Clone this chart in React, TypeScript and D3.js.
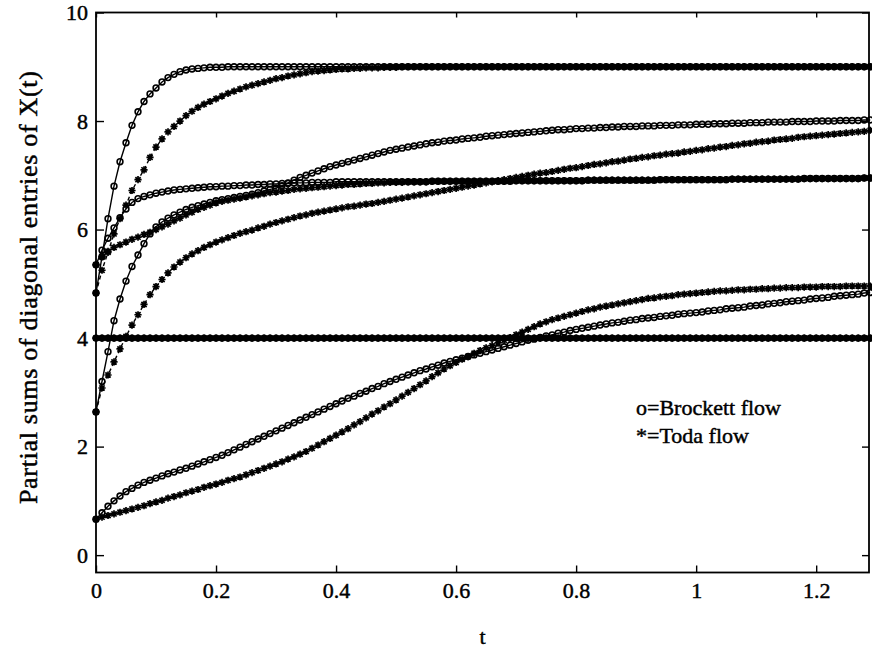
import React, { useEffect, useRef } from "react";
import * as d3 from "d3";

// flows sampled every 0.01 in t, starting at t = 0
const tStep = 0.01;
const xTicks = [0, 0.2, 0.4, 0.6, 0.8, 1, 1.2];
const yTicks = [0, 2, 4, 6, 8, 10];

// partial sums s1..s5 of diag(X(t)), Brockett flow
const brockett1 = [
  0.66, 0.78, 0.9, 1.0, 1.09, 1.17, 1.23, 1.29, 1.34, 1.38,
  1.42, 1.46, 1.5, 1.53, 1.57, 1.6, 1.64, 1.68, 1.72, 1.76,
  1.8, 1.84, 1.89, 1.94, 1.99, 2.04, 2.09, 2.14, 2.19, 2.24,
  2.29, 2.34, 2.39, 2.44, 2.49, 2.54, 2.59, 2.64, 2.69, 2.74,
  2.79, 2.84, 2.89, 2.93, 2.98, 3.02, 3.07, 3.11, 3.16, 3.2,
  3.24, 3.28, 3.32, 3.36, 3.4, 3.43, 3.47, 3.5, 3.54, 3.57,
  3.6, 3.63, 3.66, 3.69, 3.72, 3.75, 3.78, 3.81, 3.84, 3.87,
  3.9, 3.93, 3.96, 3.98, 4.01, 4.04, 4.06, 4.09, 4.11, 4.14,
  4.16, 4.18, 4.2, 4.22, 4.24, 4.26, 4.28, 4.29, 4.31, 4.33,
  4.34, 4.36, 4.37, 4.38, 4.4, 4.41, 4.42, 4.44, 4.45, 4.46,
  4.47, 4.48, 4.5, 4.51, 4.52, 4.54, 4.55, 4.56, 4.57, 4.59,
  4.6, 4.61, 4.63, 4.64, 4.65, 4.67, 4.68, 4.69, 4.7, 4.72,
  4.73, 4.74, 4.75, 4.77, 4.78, 4.79, 4.8, 4.81, 4.83, 4.84,
];
const brockett2 = [
  2.64, 3.2, 3.75, 4.32, 4.72, 5.05, 5.32, 5.53, 5.74, 5.92,
  6.05, 6.14, 6.21, 6.27, 6.32, 6.37, 6.41, 6.44, 6.47, 6.5,
  6.53, 6.55, 6.57, 6.59, 6.61, 6.63, 6.65, 6.68, 6.71, 6.74,
  6.76, 6.81, 6.86, 6.91, 6.96, 7.0, 7.04, 7.08, 7.12, 7.16,
  7.19, 7.22, 7.25, 7.28, 7.31, 7.34, 7.37, 7.4, 7.43, 7.46,
  7.48, 7.5, 7.52, 7.54, 7.56, 7.58, 7.6, 7.61, 7.63, 7.64,
  7.65, 7.67, 7.68, 7.69, 7.7, 7.72, 7.73, 7.74, 7.75, 7.76,
  7.77, 7.78, 7.79, 7.8, 7.81, 7.82, 7.83, 7.84, 7.84, 7.85,
  7.86, 7.86, 7.87, 7.87, 7.88, 7.88, 7.89, 7.89, 7.9, 7.9,
  7.9, 7.91, 7.91, 7.91, 7.92, 7.92, 7.92, 7.93, 7.93, 7.93,
  7.94, 7.94, 7.94, 7.95, 7.95, 7.95, 7.96, 7.96, 7.96, 7.97,
  7.97, 7.97, 7.98, 7.98, 7.98, 7.98, 7.99, 7.99, 7.99, 7.99,
  8.0, 8.0, 8.0, 8.0, 8.01, 8.01, 8.01, 8.01, 8.02, 8.02,
];
const brockett3 = [
  4.83, 5.5, 6.2, 6.8, 7.25, 7.6, 7.92, 8.17, 8.36, 8.5,
  8.61, 8.72, 8.8, 8.86, 8.91, 8.94, 8.96, 8.97, 8.98, 8.99,
  8.99, 8.99, 9, 9, 9, 9, 9, 9, 9, 9,
  9, 9, 9, 9, 9, 9, 9, 9, 9, 9,
  9, 9, 9, 9, 9, 9, 9, 9, 9, 9,
  9, 9, 9, 9, 9, 9, 9, 9, 9, 9,
  9, 9, 9, 9, 9, 9, 9, 9, 9, 9,
  9, 9, 9, 9, 9, 9, 9, 9, 9, 9,
  9, 9, 9, 9, 9, 9, 9, 9, 9, 9,
  9, 9, 9, 9, 9, 9, 9, 9, 9, 9,
  9, 9, 9, 9, 9, 9, 9, 9, 9, 9,
  9, 9, 9, 9, 9, 9, 9, 9, 9, 9,
  9, 9, 9, 9, 9, 9, 9, 9, 9, 9,
];
const brockett4 = [
  5.35, 5.62, 5.84, 6.03, 6.22, 6.38, 6.5, 6.57, 6.61, 6.64,
  6.67, 6.69, 6.71, 6.73, 6.74, 6.75, 6.76, 6.77, 6.78, 6.79,
  6.79, 6.8, 6.8, 6.81, 6.81, 6.82, 6.82, 6.83, 6.83, 6.84,
  6.84, 6.85, 6.85, 6.86, 6.86, 6.86, 6.87, 6.87, 6.87, 6.87,
  6.88, 6.88, 6.88, 6.88, 6.88, 6.88, 6.88, 6.88, 6.88, 6.88,
  6.88, 6.88, 6.88, 6.88, 6.88, 6.88, 6.89, 6.89, 6.89, 6.89,
  6.89, 6.89, 6.89, 6.89, 6.89, 6.89, 6.89, 6.89, 6.89, 6.89,
  6.9, 6.9, 6.9, 6.9, 6.9, 6.9, 6.9, 6.9, 6.9, 6.9,
  6.9, 6.9, 6.91, 6.91, 6.91, 6.91, 6.91, 6.91, 6.91, 6.91,
  6.91, 6.91, 6.91, 6.91, 6.92, 6.92, 6.92, 6.92, 6.92, 6.92,
  6.92, 6.92, 6.92, 6.92, 6.92, 6.92, 6.93, 6.93, 6.93, 6.93,
  6.93, 6.93, 6.93, 6.93, 6.93, 6.93, 6.93, 6.93, 6.94, 6.94,
  6.94, 6.94, 6.94, 6.94, 6.94, 6.94, 6.94, 6.94, 6.95, 6.95,
];
const brockett5 = [
  4, 4, 4, 4, 4, 4, 4, 4, 4, 4, 4, 4, 4, 4, 4, 4, 4, 4, 4, 4,
  4, 4, 4, 4, 4, 4, 4, 4, 4, 4, 4, 4, 4, 4, 4, 4, 4, 4, 4, 4,
  4, 4, 4, 4, 4, 4, 4, 4, 4, 4, 4, 4, 4, 4, 4, 4, 4, 4, 4, 4,
  4, 4, 4, 4, 4, 4, 4, 4, 4, 4, 4, 4, 4, 4, 4, 4, 4, 4, 4, 4,
  4, 4, 4, 4, 4, 4, 4, 4, 4, 4, 4, 4, 4, 4, 4, 4, 4, 4, 4, 4,
  4, 4, 4, 4, 4, 4, 4, 4, 4, 4, 4, 4, 4, 4, 4, 4, 4, 4, 4, 4,
  4, 4, 4, 4, 4, 4, 4, 4, 4, 4,
];

// same partial sums, Toda flow
const toda1 = [
  0.66, 0.7, 0.73, 0.76, 0.79, 0.82, 0.85, 0.88, 0.91, 0.95,
  0.98, 1.01, 1.05, 1.08, 1.11, 1.15, 1.18, 1.21, 1.25, 1.28,
  1.31, 1.34, 1.38, 1.41, 1.44, 1.48, 1.52, 1.56, 1.6, 1.64,
  1.68, 1.72, 1.77, 1.81, 1.86, 1.91, 1.97, 2.03, 2.09, 2.15,
  2.21, 2.27, 2.33, 2.4, 2.46, 2.53, 2.6, 2.66, 2.73, 2.79,
  2.86, 2.93, 3.0, 3.07, 3.14, 3.21, 3.29, 3.36, 3.43, 3.49,
  3.55, 3.61, 3.66, 3.72, 3.77, 3.82, 3.86, 3.91, 3.96, 4.01,
  4.06, 4.11, 4.16, 4.21, 4.26, 4.3, 4.34, 4.37, 4.4, 4.43,
  4.46, 4.49, 4.52, 4.54, 4.57, 4.59, 4.61, 4.63, 4.65, 4.67,
  4.69, 4.71, 4.73, 4.74, 4.76, 4.77, 4.78, 4.8, 4.81, 4.82,
  4.83, 4.84, 4.85, 4.86, 4.87, 4.87, 4.88, 4.89, 4.89, 4.9,
  4.9, 4.91, 4.91, 4.92, 4.92, 4.93, 4.93, 4.93, 4.94, 4.94,
  4.94, 4.95, 4.95, 4.95, 4.95, 4.96, 4.96, 4.96, 4.96, 4.96,
];
const toda2 = [
  2.64, 3.08, 3.32, 3.56, 3.8, 4.03, 4.24, 4.43, 4.62, 4.8,
  4.95, 5.08, 5.2, 5.31, 5.4, 5.48, 5.55, 5.61, 5.67, 5.72,
  5.77, 5.81, 5.85, 5.89, 5.93, 5.96, 5.99, 6.03, 6.06, 6.1,
  6.13, 6.16, 6.19, 6.22, 6.25, 6.27, 6.3, 6.32, 6.34, 6.36,
  6.38, 6.4, 6.42, 6.43, 6.45, 6.47, 6.48, 6.5, 6.52, 6.54,
  6.56, 6.58, 6.6, 6.62, 6.64, 6.66, 6.68, 6.7, 6.72, 6.74,
  6.76, 6.78, 6.8, 6.82, 6.84, 6.86, 6.88, 6.9, 6.92, 6.94,
  6.96, 6.98, 7.0, 7.02, 7.04, 7.05, 7.07, 7.09, 7.11, 7.13,
  7.14, 7.16, 7.18, 7.2, 7.21, 7.23, 7.25, 7.26, 7.28, 7.3,
  7.31, 7.33, 7.34, 7.36, 7.37, 7.39, 7.4, 7.41, 7.43, 7.44,
  7.46, 7.47, 7.49, 7.5, 7.52, 7.53, 7.55, 7.56, 7.58, 7.59,
  7.61, 7.62, 7.63, 7.65, 7.66, 7.67, 7.68, 7.7, 7.71, 7.72,
  7.73, 7.74, 7.75, 7.76, 7.77, 7.78, 7.79, 7.8, 7.81, 7.83,
];
const toda3 = [
  4.83, 5.25, 5.58, 5.92, 6.2, 6.45, 6.72, 6.92, 7.1, 7.33,
  7.52, 7.67, 7.8, 7.9, 8.0, 8.1, 8.18, 8.25, 8.31, 8.36,
  8.41, 8.46, 8.51, 8.55, 8.59, 8.63, 8.66, 8.69, 8.72, 8.75,
  8.78, 8.8, 8.83, 8.85, 8.87, 8.89, 8.91, 8.92, 8.93, 8.94,
  8.95, 8.96, 8.96, 8.97, 8.97, 8.98, 8.98, 8.98, 8.99, 8.99,
  8.99, 9, 9, 9, 9, 9, 9, 9, 9, 9,
  9, 9, 9, 9, 9, 9, 9, 9, 9, 9,
  9, 9, 9, 9, 9, 9, 9, 9, 9, 9,
  9, 9, 9, 9, 9, 9, 9, 9, 9, 9,
  9, 9, 9, 9, 9, 9, 9, 9, 9, 9,
  9, 9, 9, 9, 9, 9, 9, 9, 9, 9,
  9, 9, 9, 9, 9, 9, 9, 9, 9, 9,
  9, 9, 9, 9, 9, 9, 9, 9, 9, 9,
];
const toda4 = [
  5.35, 5.5, 5.6, 5.67, 5.72, 5.77, 5.82, 5.86, 5.91, 5.95,
  6.0, 6.05, 6.1, 6.16, 6.21, 6.27, 6.32, 6.37, 6.41, 6.45,
  6.49, 6.52, 6.54, 6.56, 6.58, 6.6, 6.62, 6.64, 6.66, 6.68,
  6.69, 6.71, 6.72, 6.74, 6.75, 6.76, 6.77, 6.78, 6.79, 6.8,
  6.81, 6.82, 6.83, 6.83, 6.84, 6.85, 6.85, 6.86, 6.86, 6.87,
  6.87, 6.87, 6.88, 6.88, 6.88, 6.88, 6.89, 6.89, 6.89, 6.89,
  6.89, 6.89, 6.89, 6.89, 6.89, 6.89, 6.89, 6.89, 6.89, 6.89,
  6.9, 6.9, 6.9, 6.9, 6.9, 6.9, 6.9, 6.9, 6.9, 6.9,
  6.9, 6.9, 6.91, 6.91, 6.91, 6.91, 6.91, 6.91, 6.91, 6.91,
  6.91, 6.91, 6.91, 6.91, 6.92, 6.92, 6.92, 6.92, 6.92, 6.92,
  6.92, 6.92, 6.92, 6.92, 6.92, 6.92, 6.93, 6.93, 6.93, 6.93,
  6.93, 6.93, 6.93, 6.93, 6.93, 6.93, 6.93, 6.93, 6.94, 6.94,
  6.94, 6.94, 6.94, 6.94, 6.94, 6.94, 6.94, 6.94, 6.95, 6.95,
];
const toda5 = [
  4, 4, 4, 4, 4, 4, 4, 4, 4, 4, 4, 4, 4, 4, 4, 4, 4, 4, 4, 4,
  4, 4, 4, 4, 4, 4, 4, 4, 4, 4, 4, 4, 4, 4, 4, 4, 4, 4, 4, 4,
  4, 4, 4, 4, 4, 4, 4, 4, 4, 4, 4, 4, 4, 4, 4, 4, 4, 4, 4, 4,
  4, 4, 4, 4, 4, 4, 4, 4, 4, 4, 4, 4, 4, 4, 4, 4, 4, 4, 4, 4,
  4, 4, 4, 4, 4, 4, 4, 4, 4, 4, 4, 4, 4, 4, 4, 4, 4, 4, 4, 4,
  4, 4, 4, 4, 4, 4, 4, 4, 4, 4, 4, 4, 4, 4, 4, 4, 4, 4, 4, 4,
  4, 4, 4, 4, 4, 4, 4, 4, 4, 4,
];

const brockettSeries = [brockett1, brockett2, brockett3, brockett4, brockett5];
const todaSeries = [toda1, toda2, toda3, toda4, toda5];
const legendLabels = ["o=Brockett flow", "*=Toda flow"];

const FONT = '"Liberation Serif", Tinos, "Times New Roman", Times, "DejaVu Serif", serif';
const STAR = "M-3.6,0H3.6M0,-3.6V3.6M-2.6,-2.6L2.6,2.6M-2.6,2.6L2.6,-2.6";

// scanned print look: slightly heavier glyphs
function ink(sel: any, size: number) {
  sel.style("font-family", FONT).style("font-size", size + "px")
    .attr("fill", "#000").attr("stroke", "#000").attr("stroke-width", 0.45);
}

export default function App() {
  const ref = useRef<SVGSVGElement>(null);

  useEffect(() => {
    const svg = d3.select(ref.current);
    svg.selectAll("*").remove();

    const left = 96, right = 869, top = 12.5, bottom = 572.5;
    const x = d3.scaleLinear().domain([0, 1.288]).range([left, right]);
    const y = d3.scaleLinear().domain([-0.32, 10]).range([bottom, top]);

    const line = d3.line<number>()
      .x((d, i) => x(i * tStep))
      .y(d => y(d));

    // axes, ticks pointing inward on all four sides
    const fmt = d3.format("~g");
    const gx = svg.append("g").attr("transform", `translate(0,${bottom})`)
      .call(d3.axisBottom(x).tickValues(xTicks).tickSizeInner(-7).tickSizeOuter(0).tickPadding(10).tickFormat(d => fmt(d as number)));
    const gy = svg.append("g").attr("transform", `translate(${left},0)`)
      .call(d3.axisLeft(y).tickValues(yTicks).tickSizeInner(-8).tickSizeOuter(0).tickPadding(8).tickFormat(d => fmt(d as number)));
    svg.append("g").attr("transform", `translate(0,${top})`)
      .call(d3.axisTop(x).tickValues(xTicks).tickSizeInner(-5).tickSizeOuter(0).tickFormat(() => ""));
    svg.append("g").attr("transform", `translate(${right},0)`)
      .call(d3.axisRight(y).tickValues(yTicks).tickSizeInner(-7).tickSizeOuter(0).tickFormat(() => ""));

    svg.selectAll(".domain").remove();
    svg.selectAll(".tick line").attr("stroke", "#000").attr("stroke-width", 1.4);
    svg.selectAll("g").attr("font-family", null);
    ink(gx.selectAll("text"), 22);
    ink(gy.selectAll("text"), 22);

    svg.append("rect")
      .attr("x", left).attr("y", top)
      .attr("width", right - left).attr("height", bottom - top)
      .attr("fill", "none").attr("stroke", "#000").attr("stroke-width", 1.8);

    // Toda: dashed line with asterisks
    todaSeries.forEach(s => {
      svg.append("path").attr("d", line(s))
        .attr("fill", "none").attr("stroke", "#000").attr("stroke-width", 1.4)
        .attr("stroke-dasharray", "4,3");
      svg.append("g").selectAll("path").data(s).join("path")
        .attr("transform", (d, i) => `translate(${x(i * tStep)},${y(d)})`)
        .attr("d", STAR).attr("stroke", "#000").attr("stroke-width", 1.7).attr("fill", "none");
    });

    // Brockett: solid line with circles
    brockettSeries.forEach(s => {
      svg.append("path").attr("d", line(s))
        .attr("fill", "none").attr("stroke", "#000").attr("stroke-width", 1.4);
      svg.append("g").selectAll("circle").data(s).join("circle")
        .attr("cx", (d, i) => x(i * tStep)).attr("cy", d => y(d))
        .attr("r", 2.9).attr("fill", "none").attr("stroke", "#000").attr("stroke-width", 1.6);
    });

    const legend = svg.append("g").selectAll("text").data(legendLabels).join("text")
      .attr("x", 636).attr("y", (d, i) => 415 + i * 28)
      .text(d => d);
    ink(legend, 22);

    const xLabel = svg.append("text")
      .attr("x", x(0.644)).attr("y", 644)
      .attr("text-anchor", "middle")
      .text("t");
    ink(xLabel, 22);

    const yLabel = svg.append("text")
      .attr("transform", `translate(37,${y(4.93)}) rotate(-90)`)
      .attr("text-anchor", "middle")
      .attr("textLength", 433).attr("lengthAdjust", "spacing")
      .text("Partial sums of diagonal entries of X(t)");
    ink(yLabel, 26);
  }, []);

  return (
    <svg ref={ref} width={872} height={650}
      style={{ position: "absolute", left: 0, top: 0, background: "#fff" }} />
  );
}
